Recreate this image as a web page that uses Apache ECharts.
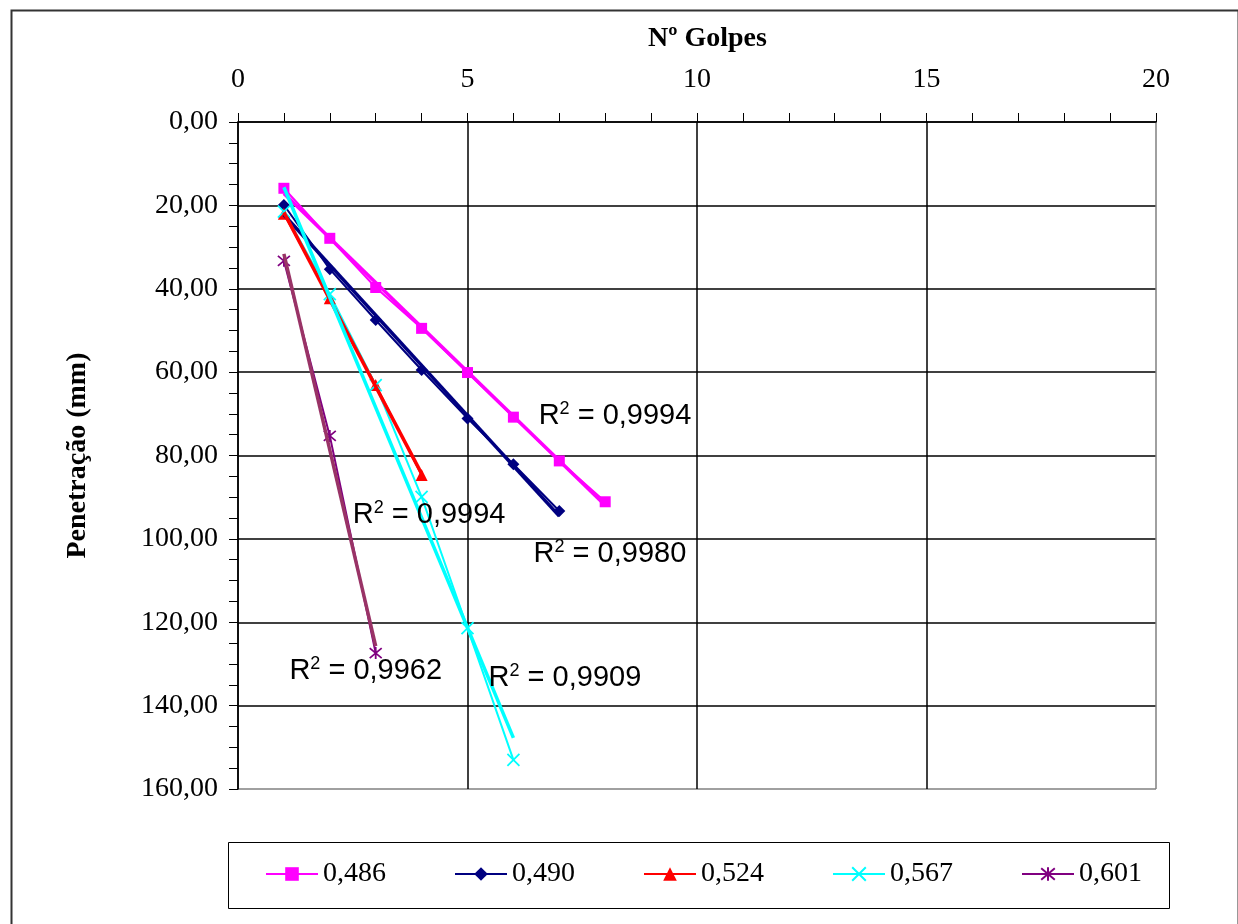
<!DOCTYPE html>
<html>
<head>
<meta charset="utf-8">
<script src="https://cdn.jsdelivr.net/npm/echarts@6/dist/echarts.min.js"></script>
<style>
html,body{margin:0;padding:0;background:#fff;}
#chart{width:1238px;height:924px;}
</style>
</head>
<body>
<div id="chart"></div>
<script>
// ---- data ----
const golpes = [1, 2, 3, 4, 5, 6, 7, 8];
const s486 = [15.9, 27.9, 39.7, 49.5, 60.1, 70.8, 81.3, 91.1];
const s490 = [19.9, 35.3, 47.5, 59.5, 71.1, 82.1, 93.3];
const s524 = [22.0, 42.3, 63.1, 84.7];
const s567 = [21.5, 41.3, 63.1, 89.9, 121.4, 153.0];
const s601 = [33.3, 75.3, 127.4];
const seriesNames = ['0,486', '0,490', '0,524', '0,567', '0,601'];
const r2Text = ['0,9994', '0,9980', '0,9994', '0,9909', '0,9962'];
const xTicks = [0, 5, 10, 15, 20];
const yTicks = [0, 20, 40, 60, 80, 100, 120, 140, 160];

// ---- styling / layout ----
const allSeries = [s486, s490, s524, s567, s601];
const colors = ['#FF00FF', '#000080', '#FF0000', '#00FFFF', '#800080'];
const trendColors = ['#FF00FF', '#000080', '#FF0000', '#00FFFF', '#993366'];
const symX = 'path://M0,0L10,10M10,0L0,10';
const symStar = 'path://M0,0L10,10M10,0L0,10M5,-1L5,11';
const symbols = ['rect', 'diamond', 'triangle', symX, symStar];
const symSizes = [11, 12, 12, 12, 12];
// label anchor (left edge, vertical middle) in data units
const labelAnchors = [[6.55, 70.5], [6.44, 103.6], [2.5, 94.3], [5.46, 133.4], [1.12, 131.7]];

function regress(ys) {
  const xs = golpes.slice(0, ys.length);
  const n = ys.length;
  const mx = xs.reduce((a, b) => a + b, 0) / n;
  const my = ys.reduce((a, b) => a + b, 0) / n;
  let sxy = 0, sxx = 0;
  for (let i = 0; i < n; i++) { sxy += (xs[i] - mx) * (ys[i] - my); sxx += (xs[i] - mx) * (xs[i] - mx); }
  const b = sxy / sxx, a = my - b * mx;
  return [[xs[0], a + b * xs[0]], [xs[n - 1], a + b * xs[n - 1]]];
}

const series = [];
allSeries.forEach((ys, i) => {
  const stroke = (i >= 3);
  series.push({
    name: seriesNames[i],
    type: 'line',
    data: ys.map((y, k) => [golpes[k], y]),
    symbol: symbols[i],
    symbolSize: symSizes[i],
    showAllSymbol: true,
    lineStyle: { color: colors[i], width: 2 },
    itemStyle: stroke ? { color: 'rgba(0,0,0,0)', borderColor: colors[i], borderWidth: 1.8 } : { color: colors[i], borderWidth: 0 },
    z: 2,
    animation: false
  });
});
allSeries.forEach((ys, i) => {
  series.push({
    name: 'trend ' + seriesNames[i],
    type: 'line',
    data: regress(ys),
    symbol: 'none',
    lineStyle: { color: trendColors[i], width: 3.5 },
    z: 3,
    silent: true,
    animation: false
  });
});

const chart = echarts.init(document.getElementById('chart'), null, { renderer: 'canvas' });
chart.setOption({
  backgroundColor: '#fff',
  animation: false,
  title: {
    text: 'Nº Golpes',
    left: 643,
    top: 20,
    textStyle: { fontFamily: 'Liberation Serif', fontWeight: 'bold', fontSize: 28, color: '#000' }
  },
  grid: { left: 238, right: 82, top: 122, bottom: 135, show: false },
  xAxis: {
    type: 'value',
    position: 'top',
    min: xTicks[0],
    max: xTicks[xTicks.length - 1],
    interval: 5,
    axisLine: { show: true, onZero: false, lineStyle: { color: '#000', width: 1.5 } },
    axisTick: { show: true, inside: false, length: 9, lineStyle: { color: '#000', width: 1 } },
    minorTick: { show: true, splitNumber: 5, length: 9, lineStyle: { color: '#000', width: 1 } },
    axisLabel: { margin: 28, fontFamily: 'Liberation Serif', fontSize: 28, color: '#000' },
    splitLine: { show: true, lineStyle: { color: ['#000', '#000', '#000', '#000', '#808080'], width: 1.5 } }
  },
  yAxis: {
    type: 'value',
    inverse: true,
    min: yTicks[0],
    max: yTicks[yTicks.length - 1],
    interval: 20,
    name: 'Penetração (mm)',
    nameLocation: 'middle',
    nameGap: 146,
    nameTextStyle: { fontFamily: 'Liberation Serif', fontWeight: 'bold', fontSize: 28, color: '#000' },
    axisLine: { show: true, onZero: false, lineStyle: { color: '#000', width: 1.5 } },
    axisTick: { show: true, inside: false, length: 9, lineStyle: { color: '#000', width: 1 } },
    minorTick: { show: true, splitNumber: 4, length: 9, lineStyle: { color: '#000', width: 1 } },
    axisLabel: { margin: 20, fontFamily: 'Liberation Serif', fontSize: 28, color: '#000',
      formatter: v => v.toFixed(2).replace('.', ',') },
    splitLine: { show: true, lineStyle: { color: ['#000', '#000', '#000', '#000', '#000', '#000', '#000', '#000', '#808080'], width: 1.5 } }
  },
  legend: {
    data: seriesNames,
    left: 260,
    top: 855,
    itemWidth: 52,
    itemHeight: 17,
    itemGap: 68,
    textStyle: { fontFamily: 'Liberation Serif', fontSize: 28, color: '#000' }
  },
  graphic: [
    { type: 'rect', left: 9, top: 8, shape: { x: 0, y: 0, width: 1227, height: 930 }, style: { fill: 'none', stroke: '#333', lineWidth: 2 }, z: -10, silent: true },
    { type: 'rect', left: 226, top: 840, shape: { x: 0, y: 0, width: 941, height: 66 }, style: { fill: 'none', stroke: '#000', lineWidth: 1 }, z: -10, silent: true }
  ],
  series: series
});

// R² annotations placed at data coordinates through the chart's own scales
const labelElems = [];
labelAnchors.forEach((p, i) => {
  const px = chart.convertToPixel({ gridIndex: 0 }, p);
  labelElems.push({
    type: 'text', x: px[0], y: px[1] - 16, z: 50, silent: true,
    style: {
      text: '{r|R}{s|2}{r| = ' + r2Text[i] + '}',
      fill: '#000',
      rich: {
        r: { fontFamily: 'Liberation Sans', fontSize: 29, fill: '#000', lineHeight: 32 },
        s: { fontFamily: 'Liberation Sans', fontSize: 18, fill: '#000', verticalAlign: 'top', lineHeight: 32, padding: [0, 0, 12, 0] }
      }
    }
  });
});
chart.setOption({ graphic: labelElems.map((e, i) => Object.assign({ id: 'r2_' + i }, e)) });
</script>
</body>
</html>
